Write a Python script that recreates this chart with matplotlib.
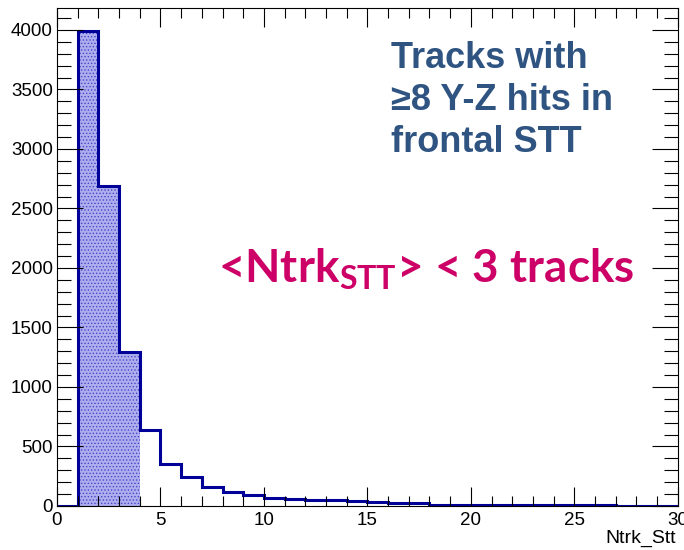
import numpy as np
import matplotlib.pyplot as plt
from matplotlib.ticker import MultipleLocator

# bin edges 0..30, one unit per bin
edges = np.arange(0, 31)
counts = [0, 3990, 2685, 1295, 638, 352, 242, 162, 116, 92,
          67, 55, 50, 47, 44, 31, 29, 27, 12, 10,
          9, 8, 7, 6, 6, 5, 5, 4, 4, 3]
filled_bins = [1, 2, 3]

line_col = '#000099'
fill_col = '#aeaeee'

fig = plt.figure(figsize=(6.84, 5.5), dpi=100)
ax = fig.add_axes([0.0833, 0.08, 0.9077, 0.9055])

# shaded part of the histogram
fill_vals = np.array([c if i in filled_bins else 0 for i, c in enumerate(counts)])
plt.rcParams['hatch.color'] = '#4646c8'
plt.rcParams['hatch.linewidth'] = 0.6
ax.stairs(fill_vals, edges, fill=True, facecolor=fill_col,
          edgecolor='#4646c8', hatch='.....', linewidth=0)
ax.stairs(counts, edges, baseline=0, color=line_col, linewidth=2.2)

ax.set_xlim(0, 30)
ax.set_ylim(0, 4185)

ax.xaxis.set_major_locator(MultipleLocator(5))
ax.xaxis.set_minor_locator(MultipleLocator(1))
ax.yaxis.set_major_locator(MultipleLocator(500))
ax.yaxis.set_minor_locator(MultipleLocator(100))
ax.tick_params(which='both', direction='in', top=True, right=True,
               labelsize=13.5, width=0.8, colors='black')
ax.tick_params(axis='x', which='major', length=14, pad=4)
ax.tick_params(axis='x', which='minor', length=7)
ax.tick_params(axis='y', which='major', length=19, pad=3)
ax.tick_params(axis='y', which='minor', length=10)
for lab in ax.get_xticklabels() + ax.get_yticklabels():
    lab.set_fontfamily('Liberation Sans')
for sp in ax.spines.values():
    sp.set_linewidth(0.8)

fig.text(0.988, 0.006, 'Ntrk_Stt', ha='right', va='bottom', fontsize=14,
         family='Liberation Sans')

ax.text(0.538, 0.933, 'Tracks with\n\u22658 Y-Z hits in\nfrontal STT',
        transform=ax.transAxes, ha='left', va='top', fontsize=26,
        fontweight='bold', color='#2f5482', family='Liberation Sans',
        linespacing=1.26)

ax.text(0.259, 0.448, r'<Ntrk$_{\mathregular{STT}}$> < 3 tracks',
        transform=ax.transAxes, ha='left', va='baseline', fontsize=33,
        fontweight='bold', color='#cc0066', family='Lato')

fig.savefig('out.png', dpi=100)
